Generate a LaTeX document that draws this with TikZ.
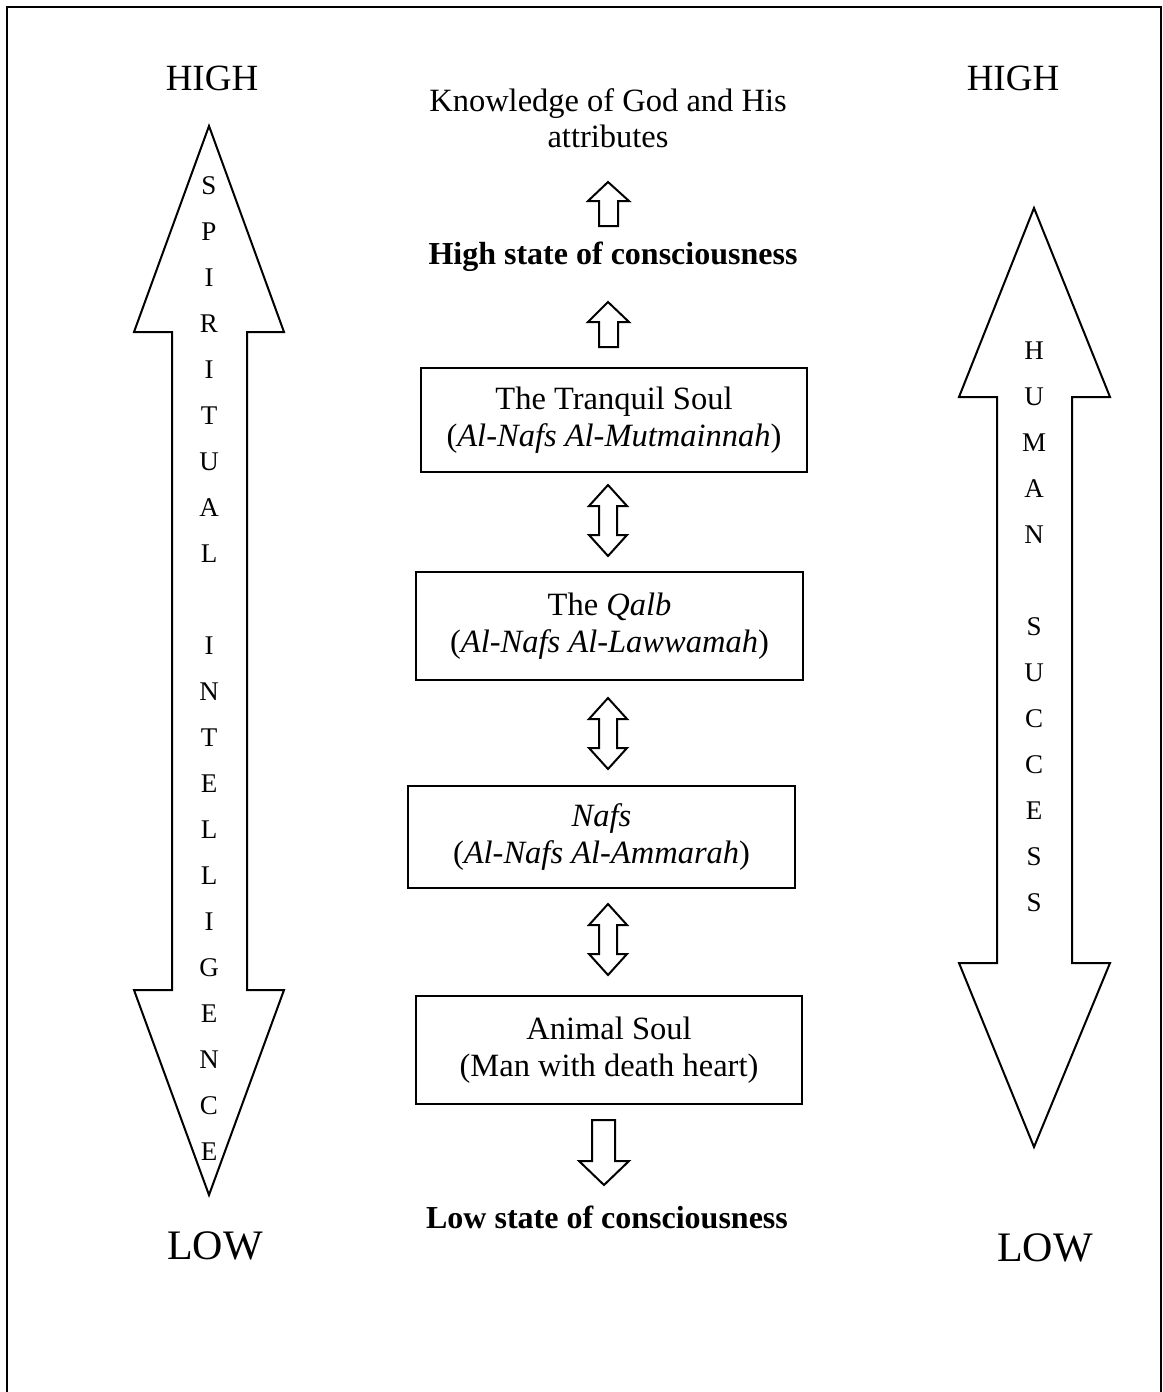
\documentclass[tikz,border=0pt]{standalone}
\usepackage{fontspec}
\setmainfont{Liberation Serif}
\begin{document}
\begin{tikzpicture}[x=0.4pt,y=-0.4pt,
  outline/.style={draw=black,line width=0.8pt,line join=miter},
  body/.style={font=\fontsize{13}{14.6}\selectfont,align=center,inner sep=0pt},
  state/.style={font=\fontsize{12.8}{14.6}\selectfont\bfseries,inner sep=0pt},
  soulbox/.style={draw=black,line width=0.8pt,align=center,inner sep=0pt,
    font=\fontsize{13}{14.6}\selectfont,minimum width=154.6pt},
  level/.style={font=\fontsize{#1}{#1}\selectfont,inner sep=0pt},
  letters/.style={font=\fontsize{10.8}{18.4}\selectfont,align=center,inner sep=0pt}]
\useasboundingbox (0,0) rectangle (1163,1392);

% open frame
\draw[line width=0.8pt] (7,1392) -- (7,7) -- (1161,7) -- (1161,1392);

% level labels
\node[level=14.8] (highL) at (212,78) {HIGH};
\node[level=14.8] (highR) at (1013,78) {HIGH};
\node[level=16.8] (lowL) at (215,1246) {LOW};
\node[level=16.8] (lowR) at (1045,1248) {LOW};

% left double block arrow: spiritual intelligence
\draw[outline] (209,126) -- (284,332) -- (247,332) -- (247,990) -- (284,990)
  -- (209,1195) -- (134,990) -- (172,990) -- (172,332) -- (134,332) -- cycle;
\node[letters] (spirit) at (209,669)
  {S\\P\\I\\R\\I\\T\\U\\A\\L\\\mbox{}\\I\\N\\T\\E\\L\\L\\I\\G\\E\\N\\C\\E};

% right double block arrow: human success
\draw[outline] (1034,208) -- (1110,397) -- (1072,397) -- (1072,963) -- (1110,963)
  -- (1034,1147) -- (959,963) -- (997,963) -- (997,397) -- (959,397) -- cycle;
\node[letters] (success) at (1034,627)
  {H\\U\\M\\A\\N\\\mbox{}\\S\\U\\C\\C\\E\\S\\S};

% centre column
\node[body] (god) at (608,118) {Knowledge of God and His\\attributes};
\node[state] (high) at (613,257) {High state of consciousness};
\node[soulbox,minimum height=41.6pt] (tranquil) at (614,420)
  {The Tranquil Soul\\(\textit{Al-Nafs Al-Mutmainnah})};
\node[soulbox,minimum height=43.2pt] (qalb) at (609.5,626)
  {The \textit{Qalb}\\(\textit{Al-Nafs Al-Lawwamah})};
\node[soulbox,minimum height=40.8pt] (nafs) at (601.5,837)
  {\textit{Nafs}\\(\textit{Al-Nafs Al-Ammarah})};
\node[soulbox,minimum height=43.2pt] (animal) at (609,1050)
  {Animal Soul\\(Man with death heart)};
\node[state] (low) at (607,1217) {Low state of consciousness};

% small up block arrows
\draw[outline] (608,182) -- (629,201) -- (618,201) -- (618,226) -- (599,226)
  -- (599,201) -- (588,201) -- cycle;
\draw[outline] (608,302) -- (629,322) -- (618,322) -- (618,347) -- (599,347)
  -- (599,322) -- (588,322) -- cycle;

% small double block arrows between the boxes
\foreach \t in {485,698,904}{
  \draw[outline] (608,\t) -- (627,\t+21) -- (617,\t+21) -- (617,\t+50)
    -- (627,\t+50) -- (608,\t+71) -- (589,\t+50) -- (599,\t+50)
    -- (599,\t+21) -- (589,\t+21) -- cycle;
}

% small down block arrow
\draw[outline] (592,1120) -- (615,1120) -- (615,1161) -- (629,1161) -- (604,1185)
  -- (579,1161) -- (592,1161) -- cycle;
\end{tikzpicture}
\end{document}
